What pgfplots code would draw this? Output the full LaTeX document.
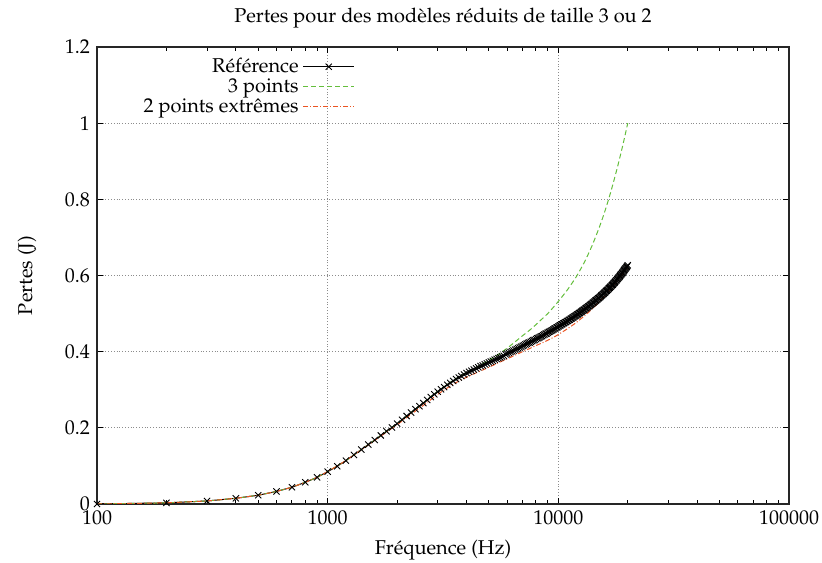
\documentclass[border=0pt]{standalone}
\usepackage[T1]{fontenc}
\usepackage{mathpazo}
\usepackage{pgfplots}
\pgfplotsset{compat=1.18}
\definecolor{gpgreen}{RGB}{100,190,60}
\definecolor{gporange}{RGB}{235,85,35}
\pgfplotstableread{
f y
100 0.000
200 0.003
300 0.008
400 0.015
500 0.023
600 0.033
700 0.044
800 0.057
900 0.070
1000 0.085
1100 0.099
1200 0.114
1300 0.129
1400 0.143
1500 0.156
1600 0.168
1700 0.180
1800 0.191
1900 0.201
2000 0.211
2100 0.221
2200 0.231
2300 0.240
2400 0.249
2500 0.257
2600 0.265
2700 0.273
2800 0.281
2900 0.288
3000 0.295
3100 0.301
3200 0.307
3300 0.313
3400 0.318
3500 0.323
3600 0.328
3700 0.332
3800 0.336
3900 0.340
4000 0.344
4100 0.347
4200 0.350
4300 0.353
4400 0.356
4500 0.359
4600 0.362
4700 0.364
4800 0.367
4900 0.369
5000 0.372
5100 0.374
5200 0.376
5300 0.379
5400 0.381
5500 0.383
5600 0.385
5700 0.387
5800 0.389
5900 0.393
6000 0.395
6100 0.397
6200 0.399
6300 0.401
6400 0.403
6500 0.405
6600 0.407
6700 0.409
6800 0.411
6900 0.413
7000 0.415
7100 0.417
7200 0.419
7300 0.421
7400 0.423
7500 0.424
7600 0.426
7700 0.428
7800 0.430
7900 0.431
8000 0.433
8100 0.435
8200 0.436
8300 0.438
8400 0.440
8500 0.441
8600 0.443
8700 0.445
8800 0.447
8900 0.448
9000 0.450
9100 0.452
9200 0.453
9300 0.455
9400 0.456
9500 0.458
9600 0.460
9700 0.461
9800 0.463
9900 0.464
10000 0.466
10100 0.468
10200 0.469
10300 0.471
10400 0.472
10500 0.474
10600 0.475
10700 0.477
10800 0.478
10900 0.480
11000 0.481
11100 0.483
11200 0.484
11300 0.486
11400 0.487
11500 0.489
11600 0.490
11700 0.492
11800 0.493
11900 0.495
12000 0.496
12100 0.498
12200 0.499
12300 0.501
12400 0.502
12500 0.504
12600 0.505
12700 0.507
12800 0.508
12900 0.510
13000 0.511
13100 0.513
13200 0.514
13300 0.516
13400 0.517
13500 0.519
13600 0.520
13700 0.522
13800 0.523
13900 0.525
14000 0.526
14100 0.528
14200 0.529
14300 0.531
14400 0.532
14500 0.534
14600 0.535
14700 0.537
14800 0.538
14900 0.540
15000 0.541
15100 0.543
15200 0.544
15300 0.546
15400 0.548
15500 0.549
15600 0.551
15700 0.552
15800 0.554
15900 0.555
16000 0.557
16100 0.559
16200 0.560
16300 0.562
16400 0.563
16500 0.565
16600 0.567
16700 0.568
16800 0.570
16900 0.571
17000 0.573
17100 0.575
17200 0.576
17300 0.578
17400 0.580
17500 0.581
17600 0.583
17700 0.585
17800 0.587
17900 0.588
18000 0.590
18100 0.592
18200 0.594
18300 0.595
18400 0.597
18500 0.599
18600 0.601
18700 0.603
18800 0.604
18900 0.606
19000 0.608
19100 0.610
19200 0.612
19300 0.614
19400 0.616
19500 0.618
19600 0.619
19700 0.621
19800 0.623
19900 0.625
20000 0.627
}\refdata
\pgfplotstableread{
f y
100 0.000
200 0.003
300 0.008
400 0.015
500 0.023
600 0.033
700 0.044
800 0.057
900 0.070
1000 0.085
1200 0.114
1400 0.143
1600 0.168
1800 0.191
2000 0.211
2200 0.231
2400 0.249
2600 0.266
2800 0.282
3000 0.296
3500 0.325
4000 0.346
4500 0.362
5000 0.377
5500 0.393
6000 0.409
6500 0.426
7000 0.442
7500 0.456
8000 0.471
8500 0.486
9000 0.500
9500 0.516
10000 0.532
10500 0.548
11000 0.564
11500 0.581
12000 0.598
12500 0.617
13000 0.636
13500 0.657
14000 0.678
14500 0.701
15000 0.724
15500 0.748
16000 0.773
16500 0.799
17000 0.826
17500 0.854
18000 0.882
18500 0.911
19000 0.940
19500 0.970
20000 1.000
}\threedata
\pgfplotstableread{
f y
100 0.000
200 0.003
300 0.008
400 0.015
500 0.023
600 0.033
700 0.044
800 0.057
900 0.070
1000 0.085
1200 0.114
1400 0.142
1600 0.167
1800 0.189
2000 0.208
2200 0.227
2400 0.244
2600 0.259
2800 0.274
3000 0.288
3500 0.315
4000 0.333
4500 0.347
5000 0.359
5500 0.371
6000 0.381
6500 0.391
7000 0.400
7500 0.408
8000 0.416
8500 0.423
9000 0.430
9500 0.437
10000 0.445
10500 0.453
11000 0.461
11500 0.469
12000 0.477
12500 0.486
13000 0.494
13500 0.503
14000 0.512
14500 0.521
15000 0.530
15500 0.539
16000 0.548
16500 0.558
17000 0.567
17500 0.577
18000 0.586
18500 0.595
19000 0.603
19500 0.611
20000 0.618
}\twodata
\begin{document}
\begin{tikzpicture}
\begin{axis}[
  name=ax, scale only axis, width=346pt, height=228.5pt,
  xmode=log, xmin=100, xmax=100000, ymin=0, ymax=1.2,
  xtick={100,1000,10000,100000}, xticklabels={100,1000,10000,100000},
  ytick={0,0.2,0.4,0.6,0.8,1,1.2}, yticklabels={0,0.2,0.4,0.6,0.8,1,1.2},
  tick align=inside, major tick length=3pt, minor tick length=1.8pt,
  tick style={black, line width=0.5pt},
  grid=major, major grid style={densely dotted, gray!90, line width=0.55pt},
  axis line style={line width=0.6pt, black!85},
  title={Pertes pour des mod\`eles r\'eduits de taille 3 ou 2},
  title style={at={(axis description cs:0.5,1)}, anchor=south, yshift=0pt},
  xlabel={Fr\'equence (Hz)}, ylabel={Pertes (J)},
  xlabel style={at={(axis description cs:0.5,0)}, anchor=center, yshift=-23pt},
  ylabel style={at={(axis description cs:0,0.5)}, anchor=center, yshift=35pt},
  legend style={draw=none, fill=none, at={(0.376,0.99)}, anchor=north east,
    row sep=-2.5pt, inner sep=1pt},
  legend cell align=right, legend plot pos=right,
  legend image code/.code={\draw[mark repeat=2,mark phase=2,#1] plot coordinates {(0cm,0cm) (0.45cm,0cm) (0.9cm,0cm)};},
]
\addplot[black, line width=0.5pt, mark=x, mark size=2.2pt, mark options={line width=0.45pt}] table[x=f,y=y] {\refdata};
\addlegendentry{R\'ef\'erence}
\addplot[gpgreen, line width=0.5pt, dash pattern=on 2.5pt off 1.5pt] table[x=f,y=y] {\threedata};
\addlegendentry{3 points}
\addplot[gporange, line width=0.5pt, dash pattern=on 2.5pt off 1pt on 0.5pt off 1pt] table[x=f,y=y] {\twodata};
\addlegendentry{2 points extr\^emes}
\end{axis}
\pgfresetboundingbox
\path[use as bounding box] ([shift={(-48.5pt,-29.5pt)}]ax.south west) rectangle ([shift={(16.5pt,23.5pt)}]ax.north east);
\end{tikzpicture}
\end{document}
